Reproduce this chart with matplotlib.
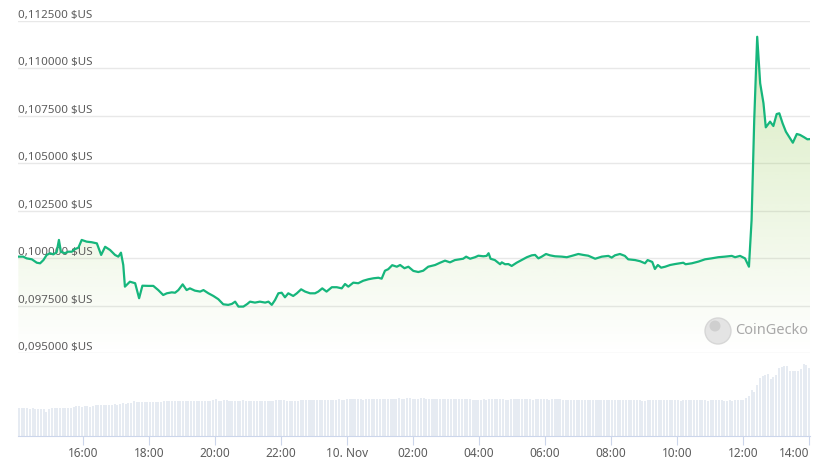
import numpy as np
import matplotlib.pyplot as plt
from matplotlib.colors import to_rgb
from matplotlib.patches import Circle
import matplotlib.transforms as mtransforms

# heures depuis le 9 nov. 00:00
hours = [14.04, 14.19, 14.29, 14.45, 14.60, 14.70, 14.80, 14.90, 15.00, 15.10,
         15.20, 15.27, 15.33, 15.45, 15.55, 15.66, 15.76, 15.86, 15.96, 16.11,
         16.26, 16.42, 16.55, 16.67, 16.82, 16.97, 17.07, 17.15, 17.22, 17.27,
         17.42, 17.58, 17.70, 17.80, 17.98, 18.13, 18.28, 18.43, 18.54, 18.69,
         18.79, 18.89, 19.02, 19.14, 19.24, 19.39, 19.55, 19.65, 19.80, 19.95,
         20.10, 20.25, 20.40, 20.51, 20.61, 20.71, 20.86, 20.98, 21.06, 21.21,
         21.36, 21.52, 21.62, 21.72, 21.82, 21.92, 22.02, 22.12, 22.22, 22.37,
         22.48, 22.61, 22.73, 22.88, 23.03, 23.13, 23.25, 23.38, 23.54, 23.69,
         23.84, 23.94, 24.04, 24.19, 24.34, 24.49, 24.65, 24.80, 24.95, 25.05,
         25.15, 25.25, 25.37, 25.51, 25.61, 25.74, 25.86, 26.01, 26.16, 26.31,
         26.46, 26.67, 26.82, 26.97, 27.12, 27.27, 27.42, 27.52, 27.61, 27.73,
         27.88, 27.98, 28.13, 28.23, 28.29, 28.35, 28.48, 28.64, 28.69, 28.79,
         28.89, 28.99, 29.14, 29.29, 29.45, 29.60, 29.70, 29.80, 29.90, 30.03,
         30.15, 30.30, 30.51, 30.66, 30.81, 31.01, 31.16, 31.31, 31.52, 31.72,
         31.92, 32.02, 32.12, 32.27, 32.42, 32.52, 32.73, 32.88, 33.03, 33.11,
         33.25, 33.33, 33.42, 33.52, 33.64, 33.79, 33.94, 34.09, 34.19, 34.26,
         34.45, 34.65, 34.85, 35.05, 35.25, 35.45, 35.66, 35.76, 35.91, 36.06,
         36.18, 36.26, 36.34, 36.43, 36.52, 36.62, 36.69, 36.82, 36.92, 37.02,
         37.10, 37.20, 37.30, 37.51, 37.63, 37.73, 37.85, 37.95, 38.03]
prices = [0.10009, 0.10009, 0.10000, 0.09995, 0.09977, 0.09974, 0.09991, 0.10018, 0.10027, 0.10021,
          0.10032, 0.10097, 0.10035, 0.10027, 0.10035, 0.10035, 0.10049, 0.10056, 0.10097, 0.10088,
          0.10085, 0.10079, 0.10018, 0.10061, 0.10044, 0.10018, 0.10009, 0.10030, 0.09965, 0.09851,
          0.09877, 0.09869, 0.09790, 0.09856, 0.09855, 0.09855, 0.09833, 0.09807, 0.09816, 0.09821,
          0.09819, 0.09833, 0.09863, 0.09833, 0.09842, 0.09830, 0.09825, 0.09833, 0.09816, 0.09802,
          0.09785, 0.09758, 0.09755, 0.09760, 0.09772, 0.09746, 0.09746, 0.09760, 0.09772, 0.09767,
          0.09772, 0.09767, 0.09772, 0.09755, 0.09781, 0.09816, 0.09819, 0.09795, 0.09816, 0.09802,
          0.09816, 0.09837, 0.09825, 0.09816, 0.09816, 0.09825, 0.09842, 0.09825, 0.09848, 0.09848,
          0.09842, 0.09865, 0.09851, 0.09872, 0.09869, 0.09882, 0.09890, 0.09895, 0.09898, 0.09893,
          0.09935, 0.09943, 0.09964, 0.09956, 0.09965, 0.09948, 0.09956, 0.09934, 0.09928, 0.09935,
          0.09956, 0.09965, 0.09977, 0.09988, 0.09979, 0.09991, 0.09995, 0.09998, 0.10009, 0.09998,
          0.10006, 0.10014, 0.10011, 0.10013, 0.10027, 0.09998, 0.09991, 0.09969, 0.09979, 0.09969,
          0.09970, 0.09960, 0.09977, 0.09991, 0.10006, 0.10016, 0.10018, 0.10000, 0.10009, 0.10023,
          0.10016, 0.10011, 0.10009, 0.10006, 0.10013, 0.10023, 0.10018, 0.10014, 0.09998, 0.10009,
          0.10013, 0.10004, 0.10016, 0.10023, 0.10013, 0.09995, 0.09991, 0.09985, 0.09974, 0.09991,
          0.09981, 0.09944, 0.09965, 0.09951, 0.09956, 0.09965, 0.09970, 0.09974, 0.09977, 0.09969,
          0.09974, 0.09983, 0.09995, 0.10000, 0.10006, 0.10009, 0.10013, 0.10006, 0.10013, 0.10000,
          0.09956, 0.10202, 0.10729, 0.11167, 0.10922, 0.10817, 0.10690, 0.10720, 0.10697, 0.10760,
          0.10764, 0.10711, 0.10667, 0.10609, 0.10655, 0.10650, 0.10638, 0.10627, 0.10628]

# volume (unites arbitraires), une barre toutes les 5 min
volumes = [28, 28, 28, 28, 27, 28, 27, 27, 27, 27, 24, 27, 28, 28, 28, 28, 28, 28, 28, 28, 29, 30, 30, 29,
           30, 30, 29, 30, 31, 31, 31, 31, 31, 31, 31, 32, 31, 32, 33, 32, 33, 33, 35, 34, 34, 34, 34, 34,
           34, 34, 34, 34, 34, 35, 35, 35, 35, 35, 35, 35, 35, 35, 35, 35, 35, 35, 35, 35, 35, 35, 35, 36,
           37, 35, 35, 36, 36, 35, 35, 35, 35, 35, 36, 35, 35, 35, 35, 35, 35, 35, 35, 35, 35, 35, 36, 36,
           36, 36, 35, 35, 35, 35, 35, 36, 36, 36, 36, 36, 36, 36, 36, 36, 36, 36, 36, 36, 36, 37, 36, 36,
           37, 37, 37, 37, 37, 37, 36, 37, 37, 37, 37, 37, 37, 37, 37, 37, 37, 37, 37, 38, 37, 37, 38, 38,
           37, 37, 37, 38, 38, 37, 37, 37, 37, 37, 37, 37, 37, 37, 37, 37, 37, 37, 37, 37, 37, 37, 36, 36,
           36, 36, 37, 36, 37, 37, 37, 37, 37, 37, 36, 36, 37, 37, 37, 37, 37, 37, 37, 37, 36, 37, 37, 37,
           37, 37, 36, 37, 37, 37, 37, 36, 36, 36, 36, 36, 36, 36, 36, 36, 36, 36, 36, 36, 36, 36, 36, 36,
           36, 36, 36, 36, 36, 36, 36, 36, 36, 36, 36, 36, 35, 35, 36, 36, 36, 36, 36, 36, 36, 36, 36, 36,
           36, 36, 35, 36, 36, 36, 36, 36, 36, 36, 36, 36, 35, 36, 36, 36, 36, 36, 35, 35, 36, 35, 36, 36,
           36, 36, 38, 40, 46, 44, 51, 58, 60, 61, 62, 57, 59, 61, 68, 69, 70, 70, 65, 65, 65, 65, 67, 72,
           71, 68]

tick_hours = [16, 18, 20, 22, 24, 26, 28, 30, 32, 34, 36, 38]
tick_labels = ['16:00', '18:00', '20:00', '22:00', '10. Nov', '02:00', '04:00',
               '06:00', '08:00', '10:00', '12:00', '14:00']
price_ticks = [0.095, 0.0975, 0.1, 0.1025, 0.105, 0.1075, 0.11, 0.1125]
price_labels = ['0,095000 $US', '0,097500 $US', '0,100000 $US', '0,102500 $US',
                '0,105000 $US', '0,107500 $US', '0,110000 $US', '0,112500 $US']

line_color = '#16b67c'
fill_color = '#8dc647'
text_color = '#5c5c5c'
font = 'Noto Sans'

W, H = 829, 471
fig = plt.figure(figsize=(W / 100, H / 100), dpi=100)
left, right = 18 / W, 810 / W
ax = fig.add_axes([left, 1 - 353.3 / H, right - left, (353.3 - 21) / H])
axv = fig.add_axes([left, 1 - 436.3 / H, right - left, (436.3 - 353.3) / H])
xmin, xmax = 14.03, 38.03

# --- prix ---
ax.set_xlim(xmin, xmax)
ax.set_ylim(0.095, 0.1125)
ax.set_yticks(price_ticks)
ax.grid(axis='y', color='#e8e8e8', lw=1)
ax.set_axisbelow(True)
ax.tick_params(left=False, bottom=False, labelleft=False, labelbottom=False)
for s in ax.spines.values():
    s.set_visible(False)

trans = mtransforms.blended_transform_factory(ax.transAxes, ax.transData)
for v, lab in zip(price_ticks, price_labels):
    ax.text(0, v, lab, transform=trans, ha='left', va='bottom', fontsize=8.3,
            family=font, color=text_color, zorder=2)

# degrade sous la courbe
poly = ax.fill_between(hours, prices, 0.095, color='none', lw=0)
rgba = np.zeros((256, 1, 4))
rgba[..., :3] = to_rgb(fill_color)
rgba[..., 3] = np.linspace(0.36, 0.0, 256).reshape(-1, 1)
img = ax.imshow(rgba, extent=[xmin, xmax, 0.095, 0.1125], aspect='auto',
                origin='upper', zorder=1, interpolation='bilinear')
img.set_clip_path(poly.get_paths()[0], transform=ax.transData)
ax.plot(hours, prices, color=line_color, lw=1.6, zorder=3, solid_joinstyle='round')
ax.set_xlim(xmin, xmax)
ax.set_ylim(0.095, 0.1125)

# --- volume ---
vol_x = np.linspace(14.06, 38.0, len(volumes))
axv.set_facecolor('none')
axv.bar(vol_x, volumes, width=0.062, color='#e6ebf2', lw=0)
axv.set_xlim(xmin, xmax)
axv.set_ylim(0, 83)
for k in ['top', 'left', 'right']:
    axv.spines[k].set_visible(False)
axv.spines['bottom'].set_color('#ccd6eb')
axv.set_yticks([])
axv.set_xticks(tick_hours)
axv.set_xticklabels(tick_labels, fontsize=8.5, family=font, color=text_color)
axv.tick_params(axis='x', length=6.5, color='#ccd6eb', pad=1.5)
axv.get_xticklabels()[-1].set_ha('right')

# filigrane CoinGecko
fig.add_artist(Circle((7.18, (H - 331) / 100), 0.13, transform=fig.dpi_scale_trans,
                      facecolor='#e2e2e2', edgecolor='#d4d4d4', lw=1, alpha=0.9))
fig.add_artist(Circle((7.15, (H - 326) / 100), 0.055, transform=fig.dpi_scale_trans,
                      facecolor='#cfcfcf', edgecolor='none'))
fig.text(735 / W, 1 - 331 / H, 'CoinGecko', fontsize=10.5, family=font,
         color='#a8a8a8', ha='left', va='center')

fig.savefig('out.png', dpi=100)
